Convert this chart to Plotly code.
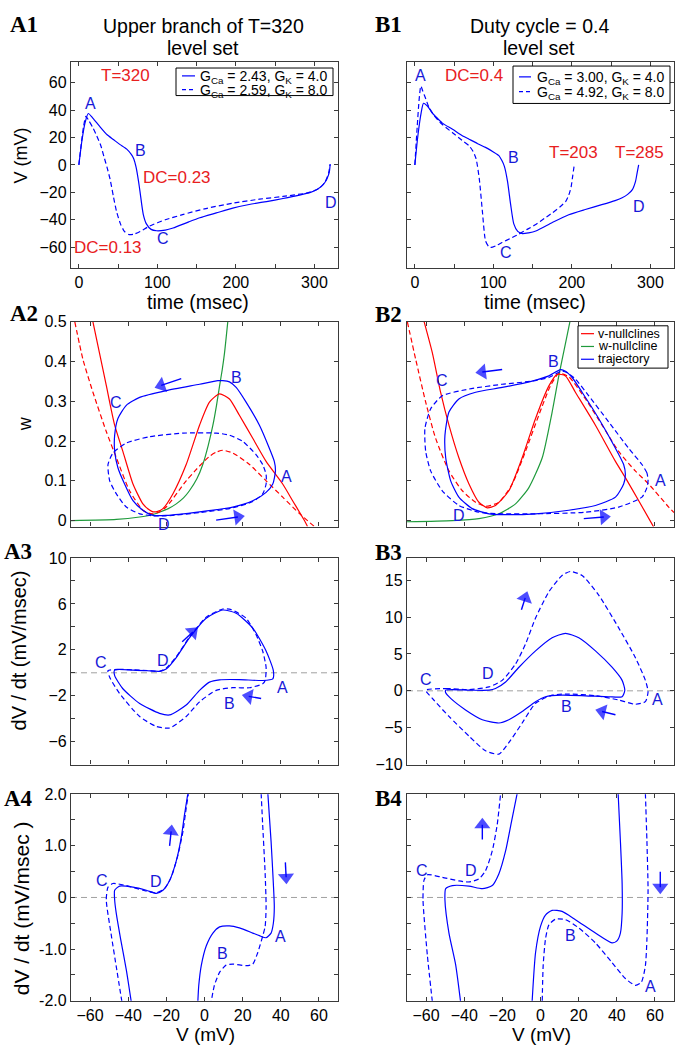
import plotly.graph_objects as go

W, H = 676, 1057
BLUE = '#0000ff'
RED = '#ff0000'
GREEN = '#1f9a3c'
TXT_BLUE = '#1818d8'
TXT_RED = '#e8201e'
FONT = 'Liberation Sans, Arial, sans-serif'
SERIF = 'Liberation Serif, Times New Roman, serif'

# ---------------- Row 1: V vs time ----------------
a1_t_solid = [0, 4, 8, 12, 18, 26, 36, 44, 52, 61, 67, 70, 73, 76, 78, 82, 86, 92, 99, 110, 120, 140, 154, 175, 196, 220, 239, 260, 281, 295, 302, 308, 313, 316, 319, 320]
a1_v_solid = [0, 18, 31, 37.5, 34, 28.5, 22, 18.5, 15, 11.5, 7.5, 4.4, -2, -12, -20, -36, -43, -47, -48, -47.5, -46, -41.5, -38.5, -35, -31.5, -28.5, -26.7, -24.5, -22, -20, -18.3, -16, -13, -10, -5, 0.5]
a1_t_dash = [0, 3, 6, 9, 13, 18, 23, 28, 32, 36, 40, 44, 48, 53, 58, 64, 70, 78, 90, 110, 132, 160, 196, 230, 260, 290, 305, 313, 318, 320]
a1_v_dash = [0, 15, 28, 35.5, 32, 27, 21, 14, 6, -2, -11, -23, -34, -43, -48.5, -50.8, -50.5, -48.5, -44.6, -40, -36.3, -32, -27.9, -25, -23, -20.5, -17.5, -13, -6, 0.5]

b1_t_solid = [0, 4, 8, 11, 16, 22, 27, 35, 48, 60, 69, 80, 90, 100, 107, 111, 114, 118, 122, 126, 131, 137, 145, 154, 175, 196, 217, 238, 255, 264, 271, 277, 281, 283, 285]
b1_v_solid = [0, 22, 38, 45, 43, 38, 35, 30.5, 26, 21.5, 18.8, 15.5, 12.8, 9.5, 6.8, 3, -1, -12, -29, -43, -48.5, -50.1, -49.5, -48.2, -42, -36.3, -32.5, -29, -26, -24, -21.5, -18, -12, -6, 0]
b1_t_dash = [0, 3, 5.5, 7.6, 10, 14, 18, 24, 32, 48, 60, 69, 74, 78, 82, 86, 90, 94, 97, 103, 111, 122, 132, 143, 154, 165, 175, 185, 192, 196, 199, 201, 203]
b1_v_dash = [0, 28, 48, 57.5, 54, 48, 42, 36.5, 31, 23.5, 18, 14, 10, 4.4, -9.9, -33.9, -55.4, -59.5, -60.2, -59, -56.6, -53.5, -50.6, -47, -43.4, -39, -35, -30.5, -26.7, -22, -16, -8, 0]

# ---------------- Row 2: w vs V phase plane ----------------
a2_vnull_v = [-58.5, -55, -51.5, -47.1, -42.8, -37.5, -32.3, -29, -27, -24.5, -21.8, -16.6, -9.6, -2.6, 2.6, 7.9, 13.1, 18.3, 25.3, 32.3, 41, 46.2, 52.4, 54]
a2_vnull_w = [0.5, 0.42, 0.34, 0.24, 0.174, 0.092, 0.042, 0.027, 0.022, 0.023, 0.03, 0.067, 0.141, 0.24, 0.298, 0.319, 0.306, 0.265, 0.207, 0.149, 0.092, 0.05, 0, -0.015]
a2_vnull2_v = [-68, -63.7, -58.5, -51.5, -46.2, -39.3, -32.3, -29.5, -27, -24, -20.1, -9.6, -5, -0.9, 3, 6.1, 9.6, 14.8, 23.6, 32.3, 41, 49.7, 57.6]
a2_vnull2_w = [0.5, 0.405, 0.323, 0.224, 0.158, 0.075, 0.026, 0.019, 0.017, 0.021, 0.034, 0.1, 0.125, 0.146, 0.163, 0.172, 0.177, 0.17, 0.141, 0.1, 0.059, 0.018, -0.015]
a2_wnull_v = [-70, -46.2, -34, -28, -23.6, -19, -14.8, -11, -7.9, -4, -0.9, 2, 4.4, 6.3, 7.9, 9.3, 10.5, 12.2]
a2_wnull_w = [0, 0.003, 0.009, 0.014, 0.021, 0.03, 0.042, 0.057, 0.075, 0.105, 0.141, 0.19, 0.24, 0.29, 0.339, 0.38, 0.422, 0.5]
a2_traj_v = [37.2, 36.6, 34, 28.8, 21.8, 16.6, 13.1, 9.6, 7, -2.6, -20.1, -34, -41, -45.4, -47.1, -47.1, -45.4, -41.9, -37.5, -32.3, -27, -20.1, -2.6, 14.8, 25.3, 32.3, 35.8, 37.2]
a2_traj_w = [0.125, 0.149, 0.182, 0.24, 0.298, 0.335, 0.349, 0.352, 0.352, 0.343, 0.327, 0.31, 0.29, 0.257, 0.215, 0.174, 0.133, 0.092, 0.05, 0.026, 0.013, 0.013, 0.022, 0.034, 0.05, 0.071, 0.092, 0.125]
a2_traj2_v = [32.3, 30.5, 27, 20.1, 13.1, 6.1, -11.3, -28.8, -41, -48, -50.6, -49.7, -46.2, -41, -34, -27, -20.1, -2.6, 14.8, 25.3, 30.5, 32.3, 32.3]
a2_traj2_w = [0.116, 0.141, 0.166, 0.199, 0.215, 0.22, 0.22, 0.211, 0.195, 0.17, 0.141, 0.1, 0.067, 0.034, 0.017, 0.012, 0.012, 0.02, 0.032, 0.048, 0.067, 0.092, 0.116]

b2_vnull_v = [-61, -56.7, -52.4, -48, -42.8, -37.5, -32.3, -27.9, -23.6, -16.6, -9.6, -2.6, 4.4, 8.7, 13.1, 18.3, 28.8, 39.3, 44.5, 51.5, 59.3]
b2_vnull_w = [0.5, 0.422, 0.323, 0.24, 0.158, 0.092, 0.046, 0.032, 0.038, 0.075, 0.158, 0.257, 0.339, 0.368, 0.364, 0.323, 0.24, 0.149, 0.108, 0.05, -0.016]
b2_vnull2_v = [-69.8, -65.4, -60.2, -55, -48, -41, -34, -28.8, -21.8, -14.8, -7.9, -0.9, 5.2, 9.6, 14.8, 23.6, 32.3, 41, 49.7, 56.7, 67.2, 70]
b2_vnull2_w = [0.5, 0.405, 0.298, 0.207, 0.125, 0.075, 0.046, 0.036, 0.046, 0.092, 0.174, 0.265, 0.339, 0.37, 0.362, 0.306, 0.24, 0.174, 0.125, 0.092, 0.034, 0.02]
b2_wnull_v = [-70, -46.2, -32.3, -21.8, -13.1, -6.1, 0.9, 6.1, 9.6, 13.1, 15.4]
b2_wnull_w = [-0.003, 0, 0.005, 0.017, 0.042, 0.083, 0.158, 0.273, 0.364, 0.446, 0.5]
b2_traj_v = [44.5, 43.6, 39.3, 30.5, 21.8, 16.6, 13.1, 10.5, 4.4, -4.4, -20.1, -34, -42.8, -48, -50.1, -49.7, -47.1, -42.8, -35.8, -27, -20.1, -2.6, 14.8, 28.8, 39.3, 43.6, 44.5]
b2_traj_w = [0.116, 0.141, 0.182, 0.257, 0.323, 0.36, 0.376, 0.38, 0.364, 0.351, 0.335, 0.323, 0.306, 0.273, 0.215, 0.158, 0.1, 0.059, 0.03, 0.017, 0.015, 0.017, 0.026, 0.038, 0.059, 0.092, 0.116]
b2_traj2_v = [56.4, 55.8, 53.2, 46.2, 35.8, 25.3, 18.3, 14, 11, 4.4, -4.4, -20.1, -37.5, -51.5, -57.6, -60.6, -60.2, -57.6, -51.5, -42.8, -32.3, -20.1, -2.6, 23.6, 41, 53.2, 55.8, 56.4]
b2_traj2_w = [0.1, 0.12, 0.141, 0.182, 0.248, 0.314, 0.356, 0.372, 0.376, 0.36, 0.351, 0.343, 0.331, 0.314, 0.281, 0.232, 0.174, 0.125, 0.075, 0.038, 0.021, 0.017, 0.017, 0.021, 0.034, 0.059, 0.083, 0.1]

# ---------------- Row 3: dV/dt vs V ----------------
a3_v_solid = [-47.1, -37.5, -30, -23.6, -20.1, -14.8, -7.9, 0.9, 9.6, 16.6, 25.3, 32.3, 36.1, 35.8, 30.5, 18.3, 7.9, 2.6, -2.6, -9.6, -18.3, -23.6, -34, -42.8, -47.1, -47.1]
a3_d_solid = [0.24, 0.24, 0.18, 0.13, 0.33, 1.33, 3.04, 4.76, 5.47, 5.19, 3.9, 1.9, 0.19, -0.53, -0.67, -0.59, -0.61, -0.81, -1.53, -2.81, -3.67, -3.53, -2.67, -1.39, -0.24, 0.24]
a3_v_dash = [-50.6, -45, -37.5, -30, -23.6, -20.1, -14.8, -7.9, 0.9, 9.6, 14, 21.8, 27, 30.5, 32.3, 31.8, 30.5, 23.6, 14.8, 6.1, -2.6, -9.6, -18.3, -25.3, -34, -44.5, -49.7, -50.6]
a3_d_dash = [0.19, 0.3, 0.26, 0.2, 0.12, 0.4, 1.4, 3.1, 4.85, 5.56, 5.5, 4.76, 3.33, 1.9, 0.47, -0.67, -0.96, -1.3, -1.3, -1.53, -2.53, -3.81, -4.81, -4.67, -3.81, -1.81, -0.39, 0.19]

b3_v_solid = [-49.7, -37.5, -27, -23.6, -18.3, -11.3, -2.6, 6.1, 13.1, 20.1, 28.8, 37.5, 42.8, 44.2, 42.8, 35.8, 23.6, 11.3, 2.6, -2.6, -9.6, -16.6, -21.8, -30.5, -39.3, -47.1, -49.7, -49.7]
b3_d_solid = [0.09, 0.09, 0.09, 0.31, 1.2, 3.2, 5.42, 7.2, 7.78, 7.2, 5.42, 3.2, 1.42, 0.09, -0.8, -0.8, -0.67, -0.58, -0.8, -1.47, -2.8, -3.91, -4.36, -3.91, -2.58, -1.02, -0.27, 0.09]
b3_v_dash = [-60.2, -49.7, -37.5, -27, -20.1, -13.1, -7.9, -2.6, 4.4, 11.3, 15.7, 21.8, 30.5, 41, 49.7, 55, 56.4, 55, 49.7, 41, 28.8, 14.8, 6.1, -2.6, -9.6, -16.6, -21.8, -28.8, -37.5, -48, -56.7, -60.2]
b3_d_dash = [0.09, 0.31, 0.18, 0.53, 1.42, 3.64, 6.31, 9.87, 13.42, 15.64, 16.18, 15.64, 12.98, 8.53, 4.53, 1.42, -0.13, -1.47, -1.82, -1.24, -0.67, -0.44, -0.58, -1.69, -4.36, -7.02, -8.58, -8.13, -6.13, -3.47, -1.02, 0.09]

# ---------------- Row 4: dV/dt vs V (zoomed) ----------------
a4_v_solid_l = [-38.4, -41, -44, -46.3, -47.1, -47.1, -44.5, -37.5, -30.5, -25.3, -21.8, -18.3, -14.8, -12.2, -10.5, -8.7]
a4_d_solid_l = [-2.02, -1.4, -0.8, -0.3, -0.05, 0.14, 0.22, 0.2, 0.14, 0.08, 0.14, 0.33, 0.71, 1.16, 1.6, 2.02]
a4_v_solid_r = [33.2, 34.9, 36.1, 36.6, 36.1, 34.9, 32.3, 28.8, 25.3, 18.3, 13.1, 7.9, 4.4, 0.9, -1.7, -3, -3.5]
a4_d_solid_r = [2.02, 1.09, 0.27, -0.18, -0.5, -0.69, -0.78, -0.74, -0.69, -0.59, -0.55, -0.57, -0.69, -0.94, -1.32, -1.7, -2.02]
a4_v_dash_l = [-43.3, -46, -49, -51.5, -50.6, -48, -41, -32.3, -25.3, -21, -17.5, -14, -11.3, -9.6, -8.4]
a4_d_dash_l = [-2.02, -1.4, -0.7, -0.05, 0.2, 0.27, 0.23, 0.14, 0.09, 0.17, 0.39, 0.81, 1.28, 1.73, 2.02]
a4_v_dash_r = [29.7, 30.5, 31.8, 32.3, 31.8, 30.5, 27.9, 25.3, 21.8, 14.8, 11.3, 7.9, 5.2, 3.5]
a4_d_dash_r = [2.02, 1.41, 0.46, -0.18, -0.56, -0.75, -1.07, -1.29, -1.32, -1.29, -1.31, -1.45, -1.7, -2.02]

b4_v_solid_l = [-41.9, -44.5, -48, -50.1, -49.7, -46.2, -37.5, -30.5, -25.3, -21.8, -18.3, -15.2, -12.2]
b4_d_solid_l = [-2.02, -1.3, -0.69, -0.05, 0.17, 0.23, 0.22, 0.17, 0.23, 0.46, 0.9, 1.47, 2.02]
b4_v_solid_r = [40.7, 41.9, 42.8, 42.8, 41.9, 40.1, 37.5, 28.8, 18.3, 11.3, 6.1, 2.6, 0, -2.6, -4.4]
b4_d_solid_r = [2.02, 1.09, 0.27, -0.3, -0.69, -0.84, -0.88, -0.69, -0.43, -0.27, -0.25, -0.34, -0.56, -1.07, -2.02]
b4_v_dash_l = [-56.7, -59.3, -61.6, -61.1, -59.3, -51.5, -42.8, -37.5, -32.3, -28.8, -25.3, -22.7, -20.9]
b4_d_dash_l = [-2.02, -1.13, -0.05, 0.33, 0.44, 0.39, 0.32, 0.3, 0.36, 0.52, 0.9, 1.41, 2.02]
b4_v_dash_r = [55, 55.8, 56.4, 55.8, 55, 52.9, 49.7, 44.5, 37.5, 28.8, 20.1, 13.1, 7.9, 4.4, 2.6, 1.4, 0.9]
b4_d_dash_r = [2.02, 1.09, 0.14, -0.81, -1.32, -1.64, -1.7, -1.57, -1.26, -0.88, -0.59, -0.43, -0.42, -0.53, -0.81, -1.32, -2.02]

zero_v = [-70, 70]
zero_d = [0, 0]

# direction arrows: (tail, tip) per panel
arrows_a2 = [((-12.2, 0.357), (-22.7, 0.34)), ((6.1, 0.001), (17.5, 0.009))]
arrows_b2 = [((-20.1, 0.38), (-30.5, 0.374)), ((22.7, 0.005), (33.2, 0.009))]
arrows_a3 = [((-11.7, 2.7), (-6.1, 3.55)), ((29.7, -2.24), (23.2, -2.05))]
arrows_b3 = [((-10, 11), (-8, 12.6)), ((39.3, -3.24), (32.3, -2.8))]
arrows_a4 = [((-18.3, 1.0), (-17.5, 1.28)), ((42.4, 0.68), (42.8, 0.39))]
arrows_b4 = [((-30.5, 1.12), (-30.5, 1.41)), ((62.8, 0.5), (62.8, 0.2))]

# tick definitions
time_major = [0, 100, 200, 300]
time_minor = [50, 150, 250]
v1_ticks = [-60, -40, -20, 0, 20, 40, 60]
v_ticks = [-60, -40, -20, 0, 20, 40, 60]
w_ticks = [0, 0.1, 0.2, 0.3, 0.4, 0.5]
w_labels = ['0', '0.1', '0.2', '0.3', '0.4', '0.5']
a3_major = [-6, -2, 2, 6, 10]
a3_minor = [-8, -4, 0, 4, 8]
b3_ticks = [-10, -5, 0, 5, 10, 15]
r4_major = [-2, -1, 0, 1, 2]
r4_labels = ['-2.0', '-1.0', '0', '1.0', '2.0']
r4_minor = [-1.5, -0.5, 0.5, 1.5]

# ---------------- figure ----------------
fig = go.Figure()


def P(px):
    return px / W


def Q(py):
    return 1 - py / H


def line(x, y, ax, color, dash=None, width=1.2, smooth=0.6):
    fig.add_trace(go.Scatter(
        x=x, y=y, xaxis='x' + ax, yaxis='y' + ax, mode='lines',
        line=dict(color=color, width=width, dash=dash, shape='spline', smoothing=smooth),
        showlegend=False, hoverinfo='skip'))


def arrows(lst, ax):
    for tail, tip in lst:
        fig.add_trace(go.Scatter(
            x=[tail[0], tip[0]], y=[tail[1], tip[1]], xaxis='x' + ax, yaxis='y' + ax,
            mode='lines+markers', line=dict(color=BLUE, width=1.4),
            marker=dict(symbol='triangle-up', size=[0, 14], angleref='previous', color=BLUE,
                        line=dict(width=0)),
            showlegend=False, hoverinfo='skip'))


DASH = '5px,3px'
# row 1
line(a1_t_solid, a1_v_solid, '', BLUE)
line(a1_t_dash, a1_v_dash, '', BLUE, DASH)
line(b1_t_solid, b1_v_solid, '2', BLUE)
line(b1_t_dash, b1_v_dash, '2', BLUE, DASH)
# row 2
line(a2_wnull_v, a2_wnull_w, '3', GREEN)
line(a2_vnull_v, a2_vnull_w, '3', RED)
line(a2_vnull2_v, a2_vnull2_w, '3', RED, DASH)
line(a2_traj_v, a2_traj_w, '3', BLUE)
line(a2_traj2_v, a2_traj2_w, '3', BLUE, DASH)
line(b2_wnull_v, b2_wnull_w, '4', GREEN)
line(b2_vnull_v, b2_vnull_w, '4', RED)
line(b2_vnull2_v, b2_vnull2_w, '4', RED, DASH)
line(b2_traj_v, b2_traj_w, '4', BLUE)
line(b2_traj2_v, b2_traj2_w, '4', BLUE, DASH)
arrows(arrows_a2, '3')
arrows(arrows_b2, '4')
# rows 3-4 zero lines
for ax in ['5', '6', '7', '8']:
    line(zero_v, zero_d, ax, '#a0a0a0', '6px,4px', 1.0, 0)
line(a3_v_solid, a3_d_solid, '5', BLUE)
line(a3_v_dash, a3_d_dash, '5', BLUE, DASH)
line(b3_v_solid, b3_d_solid, '6', BLUE)
line(b3_v_dash, b3_d_dash, '6', BLUE, DASH)
arrows(arrows_a3, '5')
arrows(arrows_b3, '6')
line(a4_v_solid_l, a4_d_solid_l, '7', BLUE)
line(a4_v_solid_r, a4_d_solid_r, '7', BLUE)
line(a4_v_dash_l, a4_d_dash_l, '7', BLUE, DASH)
line(a4_v_dash_r, a4_d_dash_r, '7', BLUE, DASH)
line(b4_v_solid_l, b4_d_solid_l, '8', BLUE)
line(b4_v_solid_r, b4_d_solid_r, '8', BLUE)
line(b4_v_dash_l, b4_d_dash_l, '8', BLUE, DASH)
line(b4_v_dash_r, b4_d_dash_r, '8', BLUE, DASH)
arrows(arrows_a4, '7')
arrows(arrows_b4, '8')

XA = [P(71), P(338)]
XB = [P(407), P(674)]
ROWS = [(55, 264), (319, 527), (559, 769), (799, 1009)]
AX_COL = '#3a3a3a'


def ydom(r):
    t, b = ROWS[r]
    return [Q(b), Q(t)]


def axis(domain, anchor, rng, tickvals, ticktext=None, show=True, minor=None):
    d = dict(domain=domain, anchor=anchor, range=rng, showline=True, linecolor=AX_COL,
             linewidth=1.3, mirror='ticks', ticks='inside', ticklen=4, tickwidth=1,
             tickcolor=AX_COL, showgrid=False, zeroline=False, tickmode='array',
             tickvals=tickvals,
             tickfont=dict(family=FONT, size=16, color='black'), showticklabels=show)
    if ticktext is not None:
        d['ticktext'] = ticktext
    if minor is not None:
        d['minor'] = dict(tickmode='array', tickvals=minor, ticks='inside', ticklen=4,
                          tickwidth=1, tickcolor=AX_COL, showgrid=False)
    return d


layout = dict(
    width=W, height=H, margin=dict(l=0, r=0, t=0, b=0), autosize=False,
    paper_bgcolor='white', plot_bgcolor='white', showlegend=False,
    font=dict(family=FONT, color='black'),
    xaxis=axis(XA, 'y', [-10, 330], time_major, minor=time_minor),
    yaxis=axis(ydom(0), 'x', [-75, 75], v1_ticks),
    xaxis2=axis(XB, 'y2', [-10, 330], time_major, minor=time_minor),
    yaxis2=axis(ydom(0), 'x2', [-75, 75], v1_ticks, show=False),
    xaxis3=axis(XA, 'y3', [-70, 70], v_ticks, show=False),
    yaxis3=axis(ydom(1), 'x3', [-0.015, 0.5], w_ticks, w_labels),
    xaxis4=axis(XB, 'y4', [-70, 70], v_ticks, show=False),
    yaxis4=axis(ydom(1), 'x4', [-0.015, 0.5], w_ticks, show=False),
    xaxis5=axis(XA, 'y5', [-70, 70], v_ticks, show=False),
    yaxis5=axis(ydom(2), 'x5', [-8, 10], a3_major, minor=a3_minor),
    xaxis6=axis(XB, 'y6', [-70, 70], v_ticks, show=False),
    yaxis6=axis(ydom(2), 'x6', [-10, 18], b3_ticks),
    xaxis7=axis(XA, 'y7', [-70, 70], v_ticks),
    yaxis7=axis(ydom(3), 'x7', [-2, 2], r4_major, r4_labels, minor=r4_minor),
    xaxis8=axis(XB, 'y8', [-70, 70], v_ticks),
    yaxis8=axis(ydom(3), 'x8', [-2, 2], r4_major, show=False, minor=r4_minor),
)
fig.update_layout(**layout)

ann = []
shapes = []


def ptxt(text, px, py, size, color='black', family=FONT, angle=0, xanchor='center', weight='normal'):
    ann.append(dict(text=text, x=P(px), y=Q(py), xref='paper', yref='paper', showarrow=False,
                    xanchor=xanchor, yanchor='middle', textangle=angle,
                    font=dict(family=family, size=size, color=color, weight=weight)))


def dtxt(text, x, y, ax, color=TXT_BLUE, size=16):
    ann.append(dict(text=text, x=x, y=y, xref='x' + ax, yref='y' + ax, showarrow=False,
                    xanchor='center', yanchor='middle',
                    font=dict(family=FONT, size=size, color=color)))


# titles
ptxt('Upper branch of T=320', 203, 18, 19.5)
ptxt('level set', 203, 41, 19.5)
ptxt('Duty cycle = 0.4', 539, 18, 19.5)
ptxt('level set', 539, 41, 19.5)

# panel labels
for lab, px, py in [('A1', 8, 17), ('B1', 373, 17), ('A2', 8, 311), ('B2', 373, 312),
                    ('A3', 2, 552), ('B3', 373, 553), ('A4', 2, 803), ('B4', 373, 803)]:
    ptxt(lab, px, py, 23, family=SERIF, xanchor='left', weight='bold')

# axis titles
ptxt('V (mV)', 21, 150, 18, angle=-90)
ptxt('time (msec)', 198, 299, 19.5)
ptxt('time (msec)', 535, 299, 19.5)
ptxt('w', 25, 423, 18, angle=-90)
ptxt('dV / dt (mV/msec)', 19, 653, 20, angle=-90)
ptxt('dV / dt (mV/msec )', 21, 915, 21, angle=-90)
ptxt('V (mV)', 205, 1043, 19)
ptxt('V (mV)', 541, 1043, 19)

# row 1 labels
dtxt('T=320', 58.8, 65.4, '', TXT_RED, 17)
dtxt('DC=0.23', 125.4, -9.5, '', TXT_RED, 17)
dtxt('DC=0.13', 37.5, -60.1, '', TXT_RED, 17)
dtxt('A', 15.1, 44.6, '')
dtxt('B', 77.9, 10.4, '')
dtxt('C', 107.5, -53.5, '')
dtxt('D', 321, -27.1, '')
dtxt('A', 7.8, 65.4, '2')
dtxt('DC=0.4', 75.7, 65.4, '2', TXT_RED, 17)
dtxt('B', 125.4, 5.6, '2')
dtxt('T=203', 201.8, 9.2, '2', TXT_RED, 17)
dtxt('T=285', 285.9, 9.2, '2', TXT_RED, 17)
dtxt('D', 285.9, -30.3, '2')
dtxt('C', 115.8, -63.7, '2')

# row 2 labels
dtxt('B', 16.6, 0.36, '3')
dtxt('C', -46.2, 0.298, '3')
dtxt('A', 42.8, 0.112, '3')
dtxt('D', -21, -0.011, '3')
dtxt('B', 7, 0.401, '4')
dtxt('C', -51.5, 0.352, '4')
dtxt('A', 62.8, 0.1, '4')
dtxt('D', -42.8, 0.013, '4')

# row 3 labels
dtxt('C', -54.1, 0.9, '5')
dtxt('D', -21.8, 1.04, '5')
dtxt('A', 41, -1.3, '5')
dtxt('B', 13.1, -2.67, '5')
dtxt('C', -60.2, 1.51, '6')
dtxt('D', -27.4, 2.31, '6')
dtxt('A', 61.1, -1.16, '6')
dtxt('B', 13.6, -2.13, '6')

# row 4 labels
dtxt('C', -53.6, 0.32, '7')
dtxt('D', -25.3, 0.3, '7')
dtxt('A', 39.6, -0.75, '7')
dtxt('B', 9.2, -1.09, '7')
dtxt('C', -62, 0.52, '8')
dtxt('D', -36.6, 0.52, '8')
dtxt('B', 15.7, -0.73, '8')
dtxt('A', 57.6, -1.73, '8')


# manual legends
def legend_box(x0, x1, y0, y1):
    shapes.append(dict(type='rect', xref='paper', yref='paper', x0=P(x0), x1=P(x1),
                       y0=Q(y1), y1=Q(y0), line=dict(color='black', width=1),
                       fillcolor='white', layer='above'))


def legend_line(x0, x1, py, color, dash=None):
    shapes.append(dict(type='line', xref='paper', yref='paper', x0=P(x0), x1=P(x1),
                       y0=Q(py), y1=Q(py), line=dict(color=color, width=1.2, dash=dash),
                       layer='above'))


legend_box(176, 333, 61, 89)
legend_line(182, 195, 69, BLUE)
legend_line(182, 195, 83, BLUE, '4px,3px')
ptxt('G<sub>Ca</sub> = 2.43, G<sub>K</sub> = 4.0', 198, 70, 14, xanchor='left')
ptxt('G<sub>Ca</sub> = 2.59, G<sub>K</sub> = 8.0', 198, 84, 14, xanchor='left')

legend_box(513, 670, 59, 97)
legend_line(519, 531, 70, BLUE)
legend_line(519, 531, 85, BLUE, '4px,3px')
ptxt('G<sub>Ca</sub> = 3.00, G<sub>K</sub> = 4.0', 535, 71, 14, xanchor='left')
ptxt('G<sub>Ca</sub> = 4.92, G<sub>K</sub> = 8.0', 535, 86, 14, xanchor='left')

legend_box(578, 668, 323, 366)
for name, col, py in [('v-nullclines', RED, 331), ('w-nullcline', GREEN, 344), ('trajectory', BLUE, 357)]:
    legend_line(581, 594, py, col)
    ptxt(name, 596, py, 12.5, xanchor='left')

fig.update_layout(annotations=ann, shapes=shapes)

fig.write_html("out.html", config={'displayModeBar': False},
               post_script="document.body.style.margin='0px';")
